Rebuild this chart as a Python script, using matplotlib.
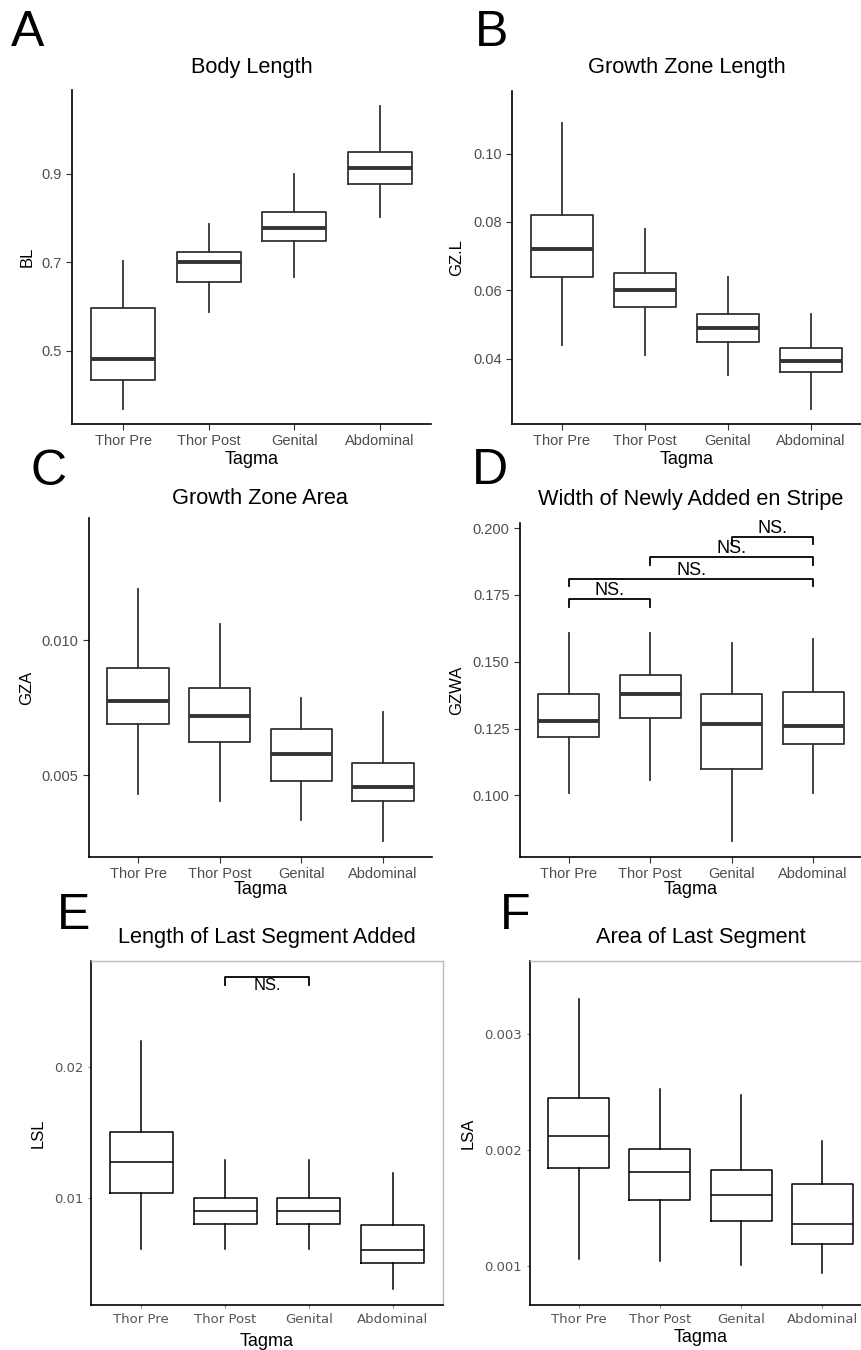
import numpy as np
import matplotlib
matplotlib.use('Agg')
import matplotlib.pyplot as plt

plt.rcParams['font.family'] = ['Liberation Sans', 'DejaVu Sans']

tagma = ['Thor Pre', 'Thor Post', 'Genital', 'Abdominal']

# five-number summaries per tagma: [whisker low, q1, median, q3, whisker high]
body_length = [[0.369, 0.434, 0.481, 0.597, 0.704],
               [0.589, 0.655, 0.700, 0.724, 0.787],
               [0.668, 0.748, 0.778, 0.814, 0.900],
               [0.802, 0.877, 0.914, 0.949, 1.054]]
gz_length = [[0.0441, 0.0640, 0.0721, 0.0820, 0.1090],
             [0.0412, 0.0550, 0.0600, 0.0650, 0.0780],
             [0.0352, 0.0450, 0.0490, 0.0530, 0.0640],
             [0.0253, 0.0360, 0.0393, 0.0430, 0.0530]]
gz_area = [[0.00432, 0.00688, 0.00776, 0.00898, 0.01190],
           [0.00405, 0.00624, 0.00719, 0.00823, 0.01062],
           [0.00333, 0.00478, 0.00579, 0.00672, 0.00787],
           [0.00257, 0.00405, 0.00457, 0.00547, 0.00735]]
stripe_width = [[0.1011, 0.1220, 0.1279, 0.1379, 0.1606],
                [0.1059, 0.1291, 0.1380, 0.1449, 0.1606],
                [0.0829, 0.1099, 0.1269, 0.1379, 0.1569],
                [0.1011, 0.1191, 0.1260, 0.1386, 0.1587]]
seg_length = [[0.00613, 0.01038, 0.01276, 0.01506, 0.02200],
              [0.00613, 0.00805, 0.00901, 0.01000, 0.01290],
              [0.00613, 0.00805, 0.00901, 0.01000, 0.01290],
              [0.00314, 0.00510, 0.00610, 0.00800, 0.01195]]
seg_area = [[0.001063, 0.001842, 0.002121, 0.002451, 0.003307],
            [0.001043, 0.001569, 0.001813, 0.002011, 0.002529],
            [0.001009, 0.001391, 0.001615, 0.001833, 0.002480],
            [0.000937, 0.001187, 0.001359, 0.001707, 0.002078]]

# significance brackets: (from index, to index, y level)
stripe_brackets = [(0, 1, 0.1734), (0, 3, 0.1810), (1, 3, 0.1890), (2, 3, 0.1968)]
seg_brackets = [(1, 2, 0.02684)]

W, H = 861, 1350
fig = plt.figure(figsize=(W / 100, H / 100), dpi=100)


def make_ax(left, right, top, bottom):
    return fig.add_axes([left / W, 1 - bottom / H, (right - left) / W, (bottom - top) / H])


def draw_panel(ax, data, title, ylabel, ylim, yticks, ytick_fmt, box_px, label_px, new_style=False):
    stats = [dict(whislo=d[0], q1=d[1], med=d[2], q3=d[3], whishi=d[4]) for d in data]
    if new_style:
        col, lw, mlw = 'black', 1.1, 1.1
    else:
        col, lw, mlw = '#333333', 1.3, 2.8
    ax.bxp(stats, positions=range(4), widths=0.75, showfliers=False, showcaps=False,
           boxprops=dict(color=col, linewidth=lw),
           whiskerprops=dict(color=col, linewidth=lw),
           medianprops=dict(color=col, linewidth=mlw))
    ax.set_xlim(-0.6, 3.6)
    ax.set_ylim(*ylim)
    ax.set_xticks(range(4))
    ax.set_xticklabels(tagma)
    ax.set_yticks(yticks)
    ax.set_yticklabels([ytick_fmt.format(t) for t in yticks])

    left, right, top, bottom = box_px
    for side in ['left', 'bottom']:
        ax.spines[side].set_color('black')
        ax.spines[side].set_linewidth(1.2)
    if new_style:
        for side in ['top', 'right']:
            ax.spines[side].set_color('#bbbbbb')
            ax.spines[side].set_linewidth(1.0)
        ax.tick_params(labelsize=9.5, labelcolor='#555555', color='#888888', length=2)
        for lab in ax.get_xticklabels() + ax.get_yticklabels():
            lab.set_family('DejaVu Sans')
    else:
        ax.spines['top'].set_visible(False)
        ax.spines['right'].set_visible(False)
        ax.tick_params(labelsize=10.5, labelcolor='#4d4d4d', color='#333333', length=4)

    ylab_x, xlab_y, title_y = label_px
    ax.set_ylabel(ylabel, fontsize=12)
    ax.set_xlabel('Tagma', fontsize=13)
    ax.yaxis.set_label_coords((ylab_x - left) / (right - left), 0.5)
    ax.xaxis.set_label_coords(0.5, (bottom - xlab_y) / (bottom - top))
    ax.xaxis.label.set_va('center')
    ax.yaxis.label.set_va('center')
    ax.text(0.5, (bottom - title_y) / (bottom - top), title, transform=ax.transAxes,
            ha='center', va='center', fontsize=15.7)


def draw_brackets(ax, brackets, tip, text_above=True, fs=13):
    for i, j, y in brackets:
        ax.plot([i, i, j, j], [y - tip, y, y, y - tip], color='black', lw=1.3, clip_on=False)
        if text_above:
            ax.text((i + j) / 2, y, 'NS.', ha='center', va='bottom', fontsize=fs)
        else:
            ax.text((i + j) / 2, y - tip * 0.2, 'NS.', ha='center', va='top', fontsize=fs)


panels = [
    (body_length, 'Body Length', 'BL', (0.335, 1.0898), [0.5, 0.7, 0.9], '{:.1f}',
     (72, 431, 90, 424), (27, 460, 68), False),
    (gz_length, 'Growth Zone Length', 'GZ.L', (0.0209, 0.1183), [0.04, 0.06, 0.08, 0.10], '{:.2f}',
     (512, 861, 91, 424), (457, 460, 68), False),
    (gz_area, 'Growth Zone Area', 'GZA', (0.00197, 0.01453), [0.005, 0.010], '{:.3f}',
     (89, 432, 518, 857), (27, 890, 499), False),
    (stripe_width, 'Width of Newly Added en Stripe', 'GZWA', (0.077, 0.2019),
     [0.100, 0.125, 0.150, 0.175, 0.200], '{:.3f}',
     (520, 862, 523, 857), (457, 890, 500), False),
    (seg_length, 'Length of Last Segment Added', 'LSL', (0.0019, 0.02805), [0.01, 0.02], '{:.2f}',
     (91, 443, 961, 1305), (38, 1342, 937), True),
    (seg_area, 'Area of Last Segment', 'LSA', (0.000664, 0.003632), [0.001, 0.002, 0.003], '{:.3f}',
     (530, 871, 961, 1305), (468, 1338, 937), True),
]

axes = []
for data, title, ylabel, ylim, yticks, fmt, box_px, label_px, new_style in panels:
    ax = make_ax(*box_px)
    draw_panel(ax, data, title, ylabel, ylim, yticks, fmt, box_px, label_px, new_style)
    axes.append(ax)

draw_brackets(axes[3], stripe_brackets, 0.0028, text_above=True, fs=13)
draw_brackets(axes[4], seg_brackets, 0.0006, text_above=False, fs=12)

letters = [('A', 28, 33), ('B', 492, 33), ('C', 49, 472), ('D', 490, 471), ('E', 74, 916), ('F', 515, 916)]
for letter, x, y in letters:
    fig.text(x / W, 1 - y / H, letter, ha='center', va='center', fontsize=36)

fig.savefig('out.png', dpi=100)
